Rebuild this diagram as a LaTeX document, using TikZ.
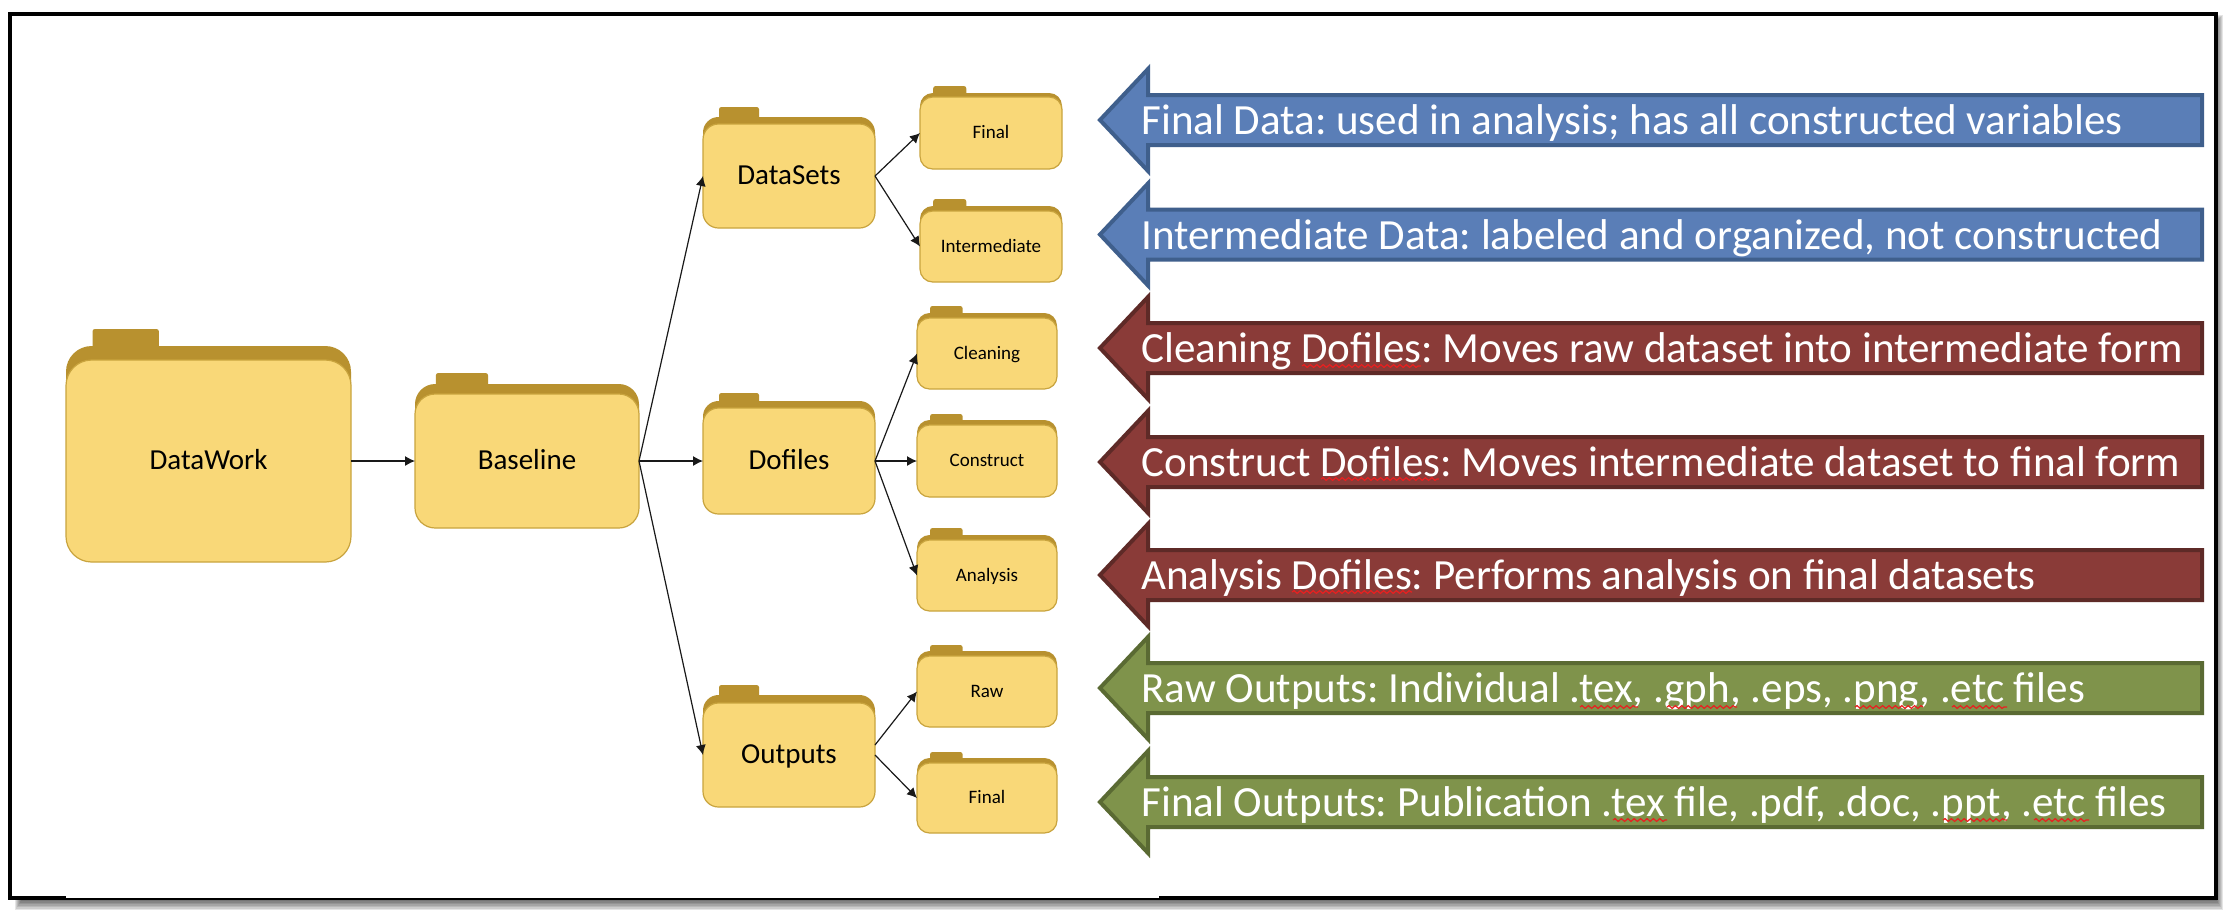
\documentclass[tikz,border=0pt]{standalone}
\usepackage{fontspec}
\setmainfont{Carlito}
\usetikzlibrary{arrows.meta,decorations.pathmorphing}
\definecolor{folderfront}{HTML}{F9D878}
\definecolor{folderback}{HTML}{B8912F}
\definecolor{folderline}{HTML}{C9A43E}
\definecolor{bluefill}{HTML}{5A7EB7}
\definecolor{blueline}{HTML}{3F5F8C}
\definecolor{redfill}{HTML}{8A3B38}
\definecolor{redline}{HTML}{5E2A27}
\definecolor{greenfill}{HTML}{7F934B}
\definecolor{greenline}{HTML}{5A6A33}
\definecolor{squig}{HTML}{E82020}
\tikzset{
  x=0.5pt, y=-0.5pt,
  folderbody/.style={draw=folderline, fill=folderfront, line width=0.6pt, inner sep=0pt, outer sep=0pt, align=center, text=black},
  folderL/.style={folderbody, font=\fontsize{14.5pt}{17pt}\selectfont, text height=11.3pt, text depth=2.9pt},
  folderS/.style={folderbody, font=\fontsize{9.5pt}{11pt}\selectfont, text height=7.4pt, text depth=1.9pt},
  conn/.style={draw=black!90, line width=0.6pt, -{Latex[length=5pt,width=5pt]}},
  bluebanner/.style={fill=bluefill, draw=blueline},
  redbanner/.style={fill=redfill, draw=redline},
  greenbanner/.style={fill=greenfill, draw=greenline},
  bannertext/.style={text=white, inner sep=0pt, anchor=base west, font=\fontsize{21.53pt}{25pt}\selectfont\frenchspacing},
  squiggle/.style={draw=squig, line width=0.6pt, decorate, decoration={snake, segment length=3.2pt, amplitude=0.7pt}},
}
% style, name, x0, x1, tab top, back top, front top, bottom, text
\newcommand{\fldr}[9]{%
  \pgfmathsetmacro{\fw}{#4-#3}%
  \pgfmathsetmacro{\fh}{#8-#7}%
  \pgfmathsetmacro{\fcx}{(#3+#4)/2}%
  \pgfmathsetmacro{\fcy}{(#7+#8)/2}%
  \pgfmathsetmacro{\fr}{0.09*\fw}%
  \pgfmathsetmacro{\ftl}{#3+0.093*\fw}%
  \pgfmathsetmacro{\ftr}{#3+0.326*\fw}%
  \pgfmathsetmacro{\fbb}{#7+2*\fr}%
  \pgfmathsetmacro{\frp}{\fr*0.5}%
  \pgfmathsetmacro{\fwp}{\fw*0.5}%
  \pgfmathsetmacro{\fhp}{\fh*0.5}%
  \fill[folderback, rounded corners=1.2pt] (\ftl,#5) rectangle (\ftr,#6+6);
  \fill[folderback, rounded corners=\frp pt] (#3,#6) rectangle (#4,\fbb);
  \node[#1, rounded corners=\frp pt, minimum width=\fwp pt, minimum height=\fhp pt] (#2) at (\fcx,\fcy) {#9};
}
% style, centre y, name, text
\newcommand{\bnr}[4]{%
  \draw[#1, line width=2pt, miter limit=3] (1100,#2) -- (1148,#2-51) -- (1148,#2-25) -- (2202,#2-25)
     -- (2202,#2+25) -- (1148,#2+25) -- (1148,#2+51) -- cycle;
  \node[bannertext] (#3) at (1141,#2+14.5) {#4};
}
\begin{document}
\begin{tikzpicture}
\useasboundingbox (0,0) rectangle (2224,912);
\fill[white] (0,0) rectangle (2224,912);
% frame shadow
\foreach \i in {0,...,6} {
  \fill[black, opacity=0.1] (15+\i,15+\i) rectangle (2223-\i,910-1.5*\i);
}
\fill[white] (12,16) rectangle (2214,896);
\draw[black, line width=2pt] (10,14) rectangle (2216,898);
\fill[white] (66,896) rectangle (1159,898);

% folders
\fldr{folderL}{datawork}{66}{351}{329}{346}{360}{562}{DataWork}
\fldr{folderL}{baseline}{415}{639}{373}{384}{394}{528}{Baseline}
\fldr{folderL}{datasets}{703}{875}{107}{117}{124}{228}{DataSets}
\fldr{folderL}{dofiles}{703}{875}{393}{401}{408}{514}{Dofiles}
\fldr{folderL}{outputs}{703}{875}{685}{695}{703}{807}{Outputs}
\fldr{folderS}{final}{920}{1062}{86}{93}{97}{169}{Final}
\fldr{folderS}{intermediate}{920}{1062}{199}{206}{211}{282}{Intermediate}
\fldr{folderS}{cleaning}{917}{1057}{306}{313}{318}{389}{Cleaning}
\fldr{folderS}{construct}{917}{1057}{414}{420}{425}{497}{Construct}
\fldr{folderS}{analysis}{917}{1057}{528}{535}{540}{611}{Analysis}
\fldr{folderS}{raw}{917}{1057}{645}{651}{656}{727}{Raw}
\fldr{folderS}{finalout}{917}{1057}{752}{758}{763}{833}{Final}

% connectors
\draw[conn] (datawork.east) -- (baseline.west);
\draw[conn] (baseline.east) -- (datasets.west);
\draw[conn] (baseline.east) -- (dofiles.west);
\draw[conn] (baseline.east) -- (outputs.west);
\draw[conn] (datasets.east) -- (final.west);
\draw[conn] (datasets.east) -- (intermediate.west);
\draw[conn] (dofiles.east) -- (cleaning.west);
\draw[conn] (dofiles.east) -- (construct.west);
\draw[conn] (dofiles.east) -- (analysis.west);
\draw[conn] ([yshift=5pt]outputs.east) -- (raw.west);
\draw[conn] (outputs.east) -- (finalout.west);

% banners
\bnr{bluebanner}{120}{b1}{Final Data: used in analysis; has all constructed variables}
\bnr{bluebanner}{234.5}{b2}{Intermediate Data: labeled and organized, not constructed}
\bnr{redbanner}{348}{b3}{Cleaning Dofiles: Moves raw dataset into intermediate form}
\bnr{redbanner}{462}{b4}{Construct Dofiles: Moves intermediate dataset to final form}
\bnr{redbanner}{575}{b5}{Analysis Dofiles: Performs analysis on final datasets}
\bnr{greenbanner}{688}{b6}{Raw Outputs: Individual .tex, .gph, .eps, .png, .etc files}
\bnr{greenbanner}{802}{b7}{Final Outputs: Publication .tex file, .pdf, .doc, .ppt, .etc files}

% spell-check marks
\draw[squiggle] (1302,366) -- (1421,366);
\draw[squiggle] (1321,479) -- (1439,479);
\draw[squiggle] (1292,592) -- (1412,592);
\draw[squiggle] (1580,707) -- (1638,707);
\draw[squiggle] (1667,707) -- (1737,707);
\draw[squiggle] (1855,707) -- (1923,707);
\draw[squiggle] (1952,707) -- (2007,707);
\draw[squiggle] (1613,820) -- (1667,820);
\draw[squiggle] (1943,820) -- (2007,820);
\draw[squiggle] (2034,820) -- (2089,820);
\end{tikzpicture}
\end{document}
